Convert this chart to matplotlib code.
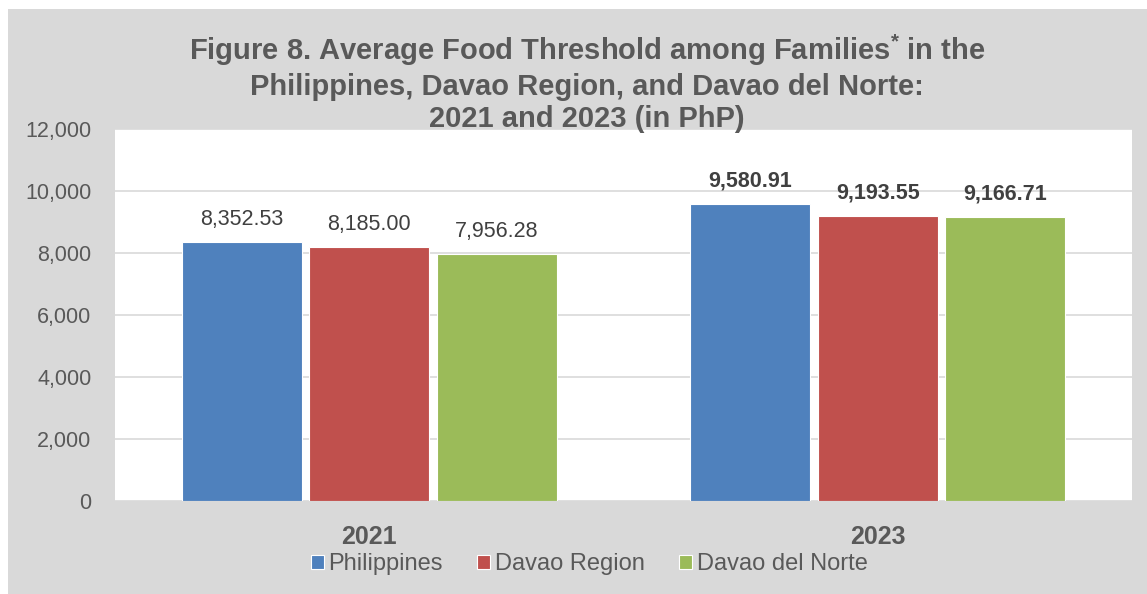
import numpy as np
import matplotlib.pyplot as plt
from matplotlib.patches import Rectangle

plt.rcParams['font.family'] = ['Liberation Sans', 'DejaVu Sans']
plt.rcParams['mathtext.fontset'] = 'custom'
plt.rcParams['mathtext.rm'] = 'Liberation Sans'
plt.rcParams['mathtext.bf'] = 'Liberation Sans:bold'

years = ['2021', '2023']
series = ['Philippines', 'Davao Region', 'Davao del Norte']
philippines = [8352.53, 9580.91]
davao_region = [8185.00, 9193.55]
davao_norte = [7956.28, 9166.71]
colors = ['#4f81bd', '#c0504d', '#9bbb59']

W, H = 1147, 594
fig = plt.figure(figsize=(W / 100, H / 100), dpi=100)
fig.patch.set_facecolor('white')
# gray chart area with a thin white border top/left
fig.patches.append(Rectangle((8 / W, 0), 1, 1 - 9 / H, transform=fig.transFigure,
                             facecolor='#d9d9d9', edgecolor='none', zorder=-10))

ax = fig.add_axes([115 / W, 1 - 501 / H, (1132 - 115) / W, (501 - 129) / H])
ax.set_facecolor('white')

x = np.arange(len(years))
bw = 0.236
step = 0.251
for i, (vals, c) in enumerate(zip([philippines, davao_region, davao_norte], colors)):
    bars = ax.bar(x + (i - 1) * step, vals, bw, color=c, edgecolor='white',
                  linewidth=0.8, label=series[i], zorder=3)
    for j, b in enumerate(bars):
        ax.text(b.get_x() + b.get_width() / 2, b.get_height() + 550,
                f'{vals[j]:,.2f}', ha='center', va='baseline', fontsize=15.5,
                color='#404040', fontweight='bold' if j == 1 else 'normal')

ax.set_xlim(-0.5, 1.5)
ax.set_ylim(0, 12000)
ax.set_yticks(np.arange(0, 12001, 2000))
ax.set_yticklabels([f'{v:,}' for v in range(0, 12001, 2000)])
ax.yaxis.grid(True, color='#d9d9d9', linewidth=1.2, zorder=0)
ax.set_axisbelow(True)
ax.set_xticks(x)
ax.set_xticklabels(years, fontsize=18, fontweight='bold', color='#595959')
ax.tick_params(axis='y', labelsize=15.5, labelcolor='#595959', length=0, pad=17)
ax.tick_params(axis='x', length=0, pad=17)
for s in ax.spines.values():
    s.set_visible(False)

fig.text(0.512, 1 - 83 / H,
         r'Figure 8. Average Food Threshold among Families$^{\mathbf{*}}$ in the' '\n'
         'Philippines, Davao Region, and Davao del Norte:\n'
         '2021 and 2023 (in PhP)',
         ha='center', va='center', fontsize=21, fontweight='bold',
         color='#595959', linespacing=1.2)

leg = fig.legend(loc='center', bbox_to_anchor=(589 / W, 1 - 564 / H), ncol=3,
                 frameon=False, fontsize=17, handlelength=0.55, handleheight=0.55,
                 handletextpad=0.2, columnspacing=1.45)
for t in leg.get_texts():
    t.set_color('#595959')

fig.savefig('out.png', dpi=100, facecolor=fig.get_facecolor())
